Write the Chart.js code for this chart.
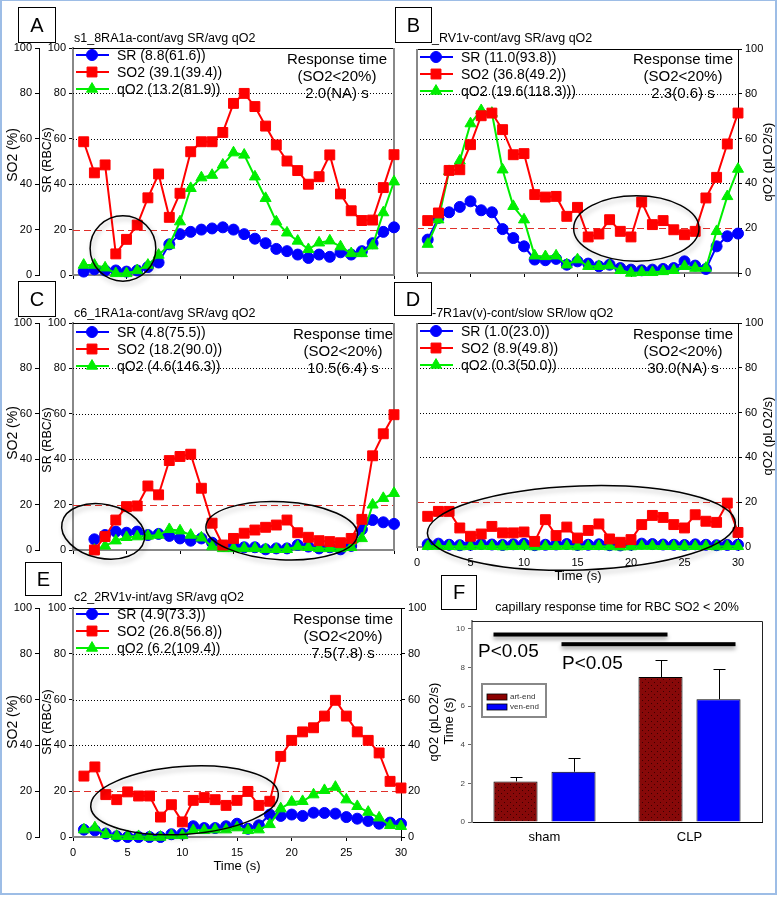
<!DOCTYPE html>
<html>
<head>
<meta charset="utf-8">
<script src="https://cdn.jsdelivr.net/npm/chart.js"></script>
<style>
  body { margin: 0; background: #fff; font-family: "Liberation Sans", Arial, sans-serif; }
  #page { position: relative; width: 778px; height: 898px; overflow: hidden; }
  #page canvas { position: absolute; }
  .win { position: absolute; left: 0; top: 0; width: 777px; height: 895px; box-sizing: border-box;
         border: 2px solid #9dbde6; border-top-width: 1px; }
  .txt { position: absolute; white-space: nowrap; color: #000; }
  .sub { font-size: 12.5px; line-height: 14px; }
  .box { position: absolute; border: 1px solid #000; background: #fff; font-size: 20px;
         text-align: center; box-sizing: border-box; z-index: 5; }
  .rot { position: absolute; white-space: nowrap; transform: translate(-50%, -50%) rotate(-90deg); }
  .resp { position: absolute; transform: translateX(-50%); text-align: center; font-size: 15px;
          line-height: 17px; white-space: nowrap; }
  .ctr { position: absolute; transform: translate(-50%, -50%); white-space: nowrap; }
</style>
</head>
<body>
<div id="page">
  <canvas id="pA" width="402" height="290" style="left:0;top:0"></canvas>
  <canvas id="pB" width="388" height="290" style="left:390px;top:0"></canvas>
  <canvas id="pC" width="402" height="280" style="left:0;top:290px"></canvas>
  <canvas id="pD" width="388" height="300" style="left:390px;top:290px"></canvas>
  <canvas id="pE" width="445" height="320" style="left:0;top:570px"></canvas>
  <canvas id="pF" width="368" height="320" style="left:410px;top:570px"></canvas>

  <div class="box" style="left:18px;top:7px;width:38px;height:36px;line-height:34px">A</div>
  <div class="box" style="left:395px;top:7px;width:37px;height:36px;line-height:34px">B</div>
  <div class="box" style="left:18px;top:281px;width:38px;height:36px;line-height:34px">C</div>
  <div class="box" style="left:394px;top:282px;width:38px;height:34px;line-height:32px">D</div>
  <div class="box" style="left:25px;top:562px;width:37px;height:34px;line-height:32px">E</div>
  <div class="box" style="left:441px;top:575px;width:36px;height:35px;line-height:33px">F</div>

  <div class="txt sub" style="left:74px;top:31px">s1_8RA1a-cont/avg SR/avg qO2</div>
  <div class="txt sub" style="left:432px;top:31px">_RV1v-cont/avg SR/avg qO2</div>
  <div class="txt sub" style="left:74px;top:306px">c6_1RA1a-cont/avg SR/avg qO2</div>
  <div class="txt sub" style="left:432px;top:306px">-7R1av(v)-cont/slow SR/low qO2</div>
  <div class="txt sub" style="left:74px;top:590px">c2_2RV1v-int/avg SR/avg qO2</div>

  <div class="resp" style="left:337px;top:50px">Response time<br>(SO2&lt;20%)<br>2.0(NA) s</div>
  <div class="resp" style="left:683px;top:50px">Response time<br>(SO2&lt;20%)<br>2.3(0.6) s</div>
  <div class="resp" style="left:343px;top:325px">Response time<br>(SO2&lt;20%)<br>10.5(6.4) s</div>
  <div class="resp" style="left:683px;top:325px">Response time<br>(SO2&lt;20%)<br>30.0(NA) s</div>
  <div class="resp" style="left:343px;top:610px">Response time<br>(SO2&lt;20%)<br>7.5(7.8) s</div>

  <div class="rot" style="left:12px;top:155px;font-size:14px">SO2 (%)</div>
  <div class="rot" style="left:47px;top:160px;font-size:12.5px">SR (RBC/s)</div>
  <div class="rot" style="left:12px;top:433px;font-size:14px">SO2 (%)</div>
  <div class="rot" style="left:47px;top:440px;font-size:12.5px">SR (RBC/s)</div>
  <div class="rot" style="left:12px;top:722px;font-size:14px">SO2 (%)</div>
  <div class="rot" style="left:47px;top:722px;font-size:12.5px">SR (RBC/s)</div>
  <div class="rot" style="left:767px;top:162px;font-size:13px">qO2 (pLO2/s)</div>
  <div class="rot" style="left:767px;top:436px;font-size:13px">qO2 (pLO2/s)</div>
  <div class="rot" style="left:433px;top:722px;font-size:13px">qO2 (pLO2/s)</div>
  <div class="rot" style="left:448px;top:721px;font-size:13px">Time (s)</div>

  <div class="ctr" style="left:578px;top:575px;font-size:13px">Time (s)</div>
  <div class="ctr" style="left:237px;top:865px;font-size:13px">Time (s)</div>

  <div class="ctr" style="left:617px;top:607px;font-size:12.5px">capillary response time for RBC SO2 &lt; 20%</div>
  <div class="txt" style="left:478px;top:640px;font-size:19px">P&lt;0.05</div>
  <div class="txt" style="left:562px;top:652px;font-size:19px">P&lt;0.05</div>

  <div class="win"></div>
</div>

<script>
  "use strict";

  // time axis (s) and tick labels
  const times = [1, 2, 3, 4, 5, 6, 7, 8, 9, 10, 11, 12, 13, 14, 15, 16, 17, 18, 19, 20, 21, 22, 23, 24, 25, 26, 27, 28, 29, 30];
  const xTicks = [0, 5, 10, 15, 20, 25, 30];
  const yTicks = [0, 20, 40, 60, 80, 100];

  // A
  const aLabels = ["SR (8.8(61.6))", "SO2 (39.1(39.4))", "qO2 (13.2(81.9))"];
  const aSR = [1.5, 2.5, 2, 2, 1.5, 2, 3.5, 5.5, 13.5, 18, 19, 20, 20.5, 21, 20, 18, 16, 14, 11.5, 10.5, 9, 7.5, 9, 8, 10, 9, 10.5, 14, 19, 21];
  const aSO2 = [58.7, 45, 48.5, 9.3, 15.7, 22, 34, 44.5, 25.4, 36, 54.3, 58.7, 58.7, 62.8, 75.6, 80, 74.2, 65.6, 57.3, 50.2, 46, 40, 43.3, 52.9, 35.7, 28.3, 24, 24.2, 38.5, 53];
  const aQO2 = [4.4, 4.4, 3.2, 0.7, 0.7, 2, 4.4, 8.8, 13.2, 23.5, 38.2, 42.9, 44, 48.5, 53.9, 52.9, 43.3, 33.8, 23.5, 18.6, 15, 11.3, 14.2, 15.1, 12.5, 9.5, 9.5, 12.9, 27.5, 41.1];

  // B
  const bLabels = ["SR (11.0(93.8))", "SO2 (36.8(49.2))", "qO2 (19.6(118.3)))"];
  const bSR = [14.9, 24.6, 27.1, 29.5, 32, 28, 27.1, 19.6, 15.6, 11.9, 6, 5.7, 6.3, 3.7, 5.2, 4.2, 3, 3.7, 2.2, 1.5, 1.2, 1.5, 1.8, 2.2, 5.2, 3.3, 1.8, 11.9, 16.4, 17.6];
  const bSO2 = [23.4, 26.8, 45.8, 46.1, 57.3, 70.2, 71.4, 64, 52.8, 53.3, 35, 33.9, 34.2, 25.3, 29.3, 16.1, 17.4, 23.8, 18.6, 16.1, 31.7, 21.6, 23.4, 19.3, 17.1, 18.6, 33.5, 42.7, 57.6, 71.4];
  const bQO2 = [12.9, 23.8, 45.4, 50.1, 66.7, 72.6, 71.4, 46.1, 29.8, 23.8, 7.7, 7.4, 7.7, 3.7, 6, 3, 3, 3.3, 1.2, 0, 0.3, 0.3, 0.7, 1.2, 3, 2.2, 2.2, 18.6, 34.2, 46.4];

  // C
  const cLabels = ["SR (4.8(75.5))", "SO2 (18.2(90.0))", "qO2 (4.6(146.3))"];
  const cSR = [null, 4.7, 6.6, 8.1, 7.6, 8.1, 6.6, 7.1, 6.2, 5.1, 4.1, 5.1, 3.2, 1.8, 1.8, 1.2, 1.2, 0.3, 0.7, 0.7, 2.2, 1.5, 0.7, 1.2, 0.3, 1.8, 9.1, 13.2, 12.2, 11.5];
  const cSO2 = [null, 0, 5.9, 13.2, 19.1, 19.4, 28.2, 24.3, 39.4, 41.2, 42.2, 27.2, 11.8, 2.2, 5.1, 7.4, 8.8, 10, 11, 13.2, 7.6, 5.6, 4.1, 3.7, 3.2, 5.1, 13.5, 41.5, 51.2, 59.6];
  const cQO2 = [null, 0, 1.8, 4.1, 5.6, 5.9, 6.2, 6.6, 9.1, 8.5, 6.6, 5.4, 1.5, 0.7, 0.7, 0.7, 0.7, 0.3, 0.3, 0.3, 1.5, 1.2, 0.7, 0.7, 0.7, 1.2, 5.1, 19.9, 22.8, 25];

  // D
  const dLabels = ["SR (1.0(23.0))", "SO2 (8.9(49.8))", "qO2 (0.3(50.0))"];
  const dSR = [1.2, 1.5, 1.0, 0.8, 1.0, 1.3, 1.1, 0.9, 1.2, 1.4, 0.8, 1.0, 1.1, 1.3, 0.9, 1.0, 1.2, 0.8, 0.7, 1.0, 1.5, 1.3, 1.1, 1.0, 0.9, 1.2, 1.0, 0.8, 0.9, 1.0];
  const dSO2 = [13.7, 15.9, 15.9, 8.5, 4.8, 5.8, 9.2, 6.3, 6.3, 6.7, 2.5, 12.2, 5.1, 8.9, 4, 7.4, 10.3, 3.6, 2.1, 3.3, 10, 14.1, 13.2, 10, 8.5, 14.4, 11.5, 11, 19.6, 6.5];
  const dQO2 = [0.3, 0.4, 0.3, 0.2, 0.3, 0.4, 0.3, 0.2, 0.3, 0.4, 0.2, 0.3, 0.3, 0.4, 0.2, 0.3, 0.3, 0.2, 0.1, 0.2, 0.4, 0.4, 0.3, 0.3, 0.2, 0.3, 0.3, 0.2, 0.3, 0.3];

  // E
  const eLabels = ["SR (4.9(73.3))", "SO2 (26.8(56.8))", "qO2 (6.2(109.4))"];
  const eSR = [3.2, 2.9, 1.5, 0.3, 0, 0, 0, 0, 1.2, 1.5, 4.7, 3.9, 3.9, 4.7, 5.8, 3.6, 5.1, 9.8, 9.2, 9.8, 9.2, 10.6, 10.5, 10.2, 8.7, 8, 7, 5.8, 6.3, 5.8];
  const eSO2 = [26.6, 30.6, 18.5, 16.3, 19.7, 17.9, 17.9, 8.7, 14.1, 6.6, 16, 17.2, 16.3, 13.8, 16, 19.9, 13.8, 15.6, 35.2, 42.2, 45.9, 47.7, 52.8, 59.7, 52.8, 45.9, 42.2, 36.7, 24.3, 21.4];
  const eQO2 = [3.2, 4.1, 1.2, 0.4, 0.3, 0.3, 0, 0, 0.7, 0.7, 2.9, 2.9, 3.2, 3.2, 4.1, 2.9, 3.2, 5.5, 12.4, 15.3, 15.6, 18.5, 20.4, 21.8, 16.3, 13.4, 10.9, 8.4, 5.1, 4.7];

  // F
  const groups = ["sham", "CLP"];
  const fTicks = [0, 2, 4, 6, 8, 10];
  const artEnd = [2.1, 7.5];
  const artSD = [0.25, 0.9];
  const venEnd = [2.6, 6.35];
  const venSD = [0.7, 1.55];

  Chart.defaults.font.family = '"Liberation Sans", Arial, sans-serif';
  Chart.defaults.color = "#000";

  function hline(ctx, a, y) {
    ctx.beginPath(); ctx.moveTo(a.left, y); ctx.lineTo(a.right, y); ctx.stroke();
  }
  function vline(ctx, a, x) {
    ctx.beginPath(); ctx.moveTo(x, a.top); ctx.lineTo(x, a.bottom); ctx.stroke();
  }

  function drawMarker(ctx, style, x, y, r) {
    ctx.beginPath();
    if (style === "circle") {
      ctx.arc(x, y, r, 0, Math.PI * 2);
    } else if (style === "rect") {
      const s = r * Math.SQRT1_2;
      ctx.rect(x - s, y - s, 2 * s, 2 * s);
    } else {
      let ang = 0;
      ctx.moveTo(x + Math.sin(ang) * r, y - Math.cos(ang) * r);
      ang += Math.PI * 2 / 3;
      ctx.lineTo(x + Math.sin(ang) * r, y - Math.cos(ang) * r);
      ang += Math.PI * 2 / 3;
      ctx.lineTo(x + Math.sin(ang) * r, y - Math.cos(ang) * r);
      ctx.closePath();
    }
    ctx.fill();
    ctx.stroke();
  }

  // grid, threshold line, frame, ellipses and legend of the time panels
  const panelDecor = {
    id: "panelDecor",
    beforeDatasetsDraw(chart, args, o) {
      const { ctx, chartArea: a } = chart;
      const y = chart.scales.y;
      ctx.save();
      ctx.lineWidth = 1;
      ctx.strokeStyle = "#000";
      ctx.setLineDash([1, 2]);
      yTicks.forEach((v) => {
        if (v > o.threshold && v < 100) hline(ctx, a, Math.round(y.getPixelForValue(v)) + 0.5);
      });
      ctx.strokeStyle = "#e0302a";
      ctx.setLineDash([7, 4]);
      hline(ctx, a, Math.round(y.getPixelForValue(o.threshold)) + 0.5);
      ctx.setLineDash([]);
      ctx.strokeStyle = "#000";
      hline(ctx, a, Math.round(a.top) + 0.5);
      ctx.strokeStyle = "#888";
      ctx.lineWidth = 2;
      if (o.frameLeft) vline(ctx, a, a.left);
      if (o.frameRight) vline(ctx, a, a.right);
      ctx.restore();
    },
    afterDatasetsDraw(chart, args, o) {
      const { ctx, chartArea: a } = chart;
      const x = chart.scales.x, y = chart.scales.y;
      ctx.save();
      ctx.strokeStyle = "#000";
      ctx.lineWidth = 1.5;
      ctx.shadowColor = "rgba(0,0,0,0.3)";
      ctx.shadowBlur = 5;
      ctx.shadowOffsetX = 2;
      ctx.shadowOffsetY = 3;
      o.ellipses.forEach((e) => {
        const cx = x.getPixelForValue(e.t), cy = y.getPixelForValue(e.v);
        const rx = x.getPixelForValue(e.t + e.rt) - cx;
        const ry = cy - y.getPixelForValue(e.v + e.rv);
        ctx.beginPath();
        ctx.ellipse(cx, cy, rx, ry, (e.rot || 0) * Math.PI / 180, 0, Math.PI * 2);
        ctx.stroke();
      });
      ctx.shadowColor = "transparent";

      // legend: line + marker + label
      const lx = a.left + 3;
      chart.data.datasets.forEach((d, i) => {
        const ly = a.top + o.legendY + i * 17;
        ctx.strokeStyle = d.borderColor;
        ctx.lineWidth = 2;
        ctx.beginPath(); ctx.moveTo(lx, ly); ctx.lineTo(lx + 33, ly); ctx.stroke();
        ctx.fillStyle = d.pointBackgroundColor;
        ctx.lineWidth = 1;
        drawMarker(ctx, d.pointStyle, lx + 16, ly, d.pointRadius);
        ctx.fillStyle = "#000";
        ctx.font = '14px "Liberation Sans", Arial, sans-serif';
        ctx.textBaseline = "middle";
        ctx.fillText(d.label, lx + 41, ly + 1);
      });
      ctx.restore();
    },
  };

  function series(label, data, color, style, radius, order) {
    return {
      label, data, order,
      borderColor: color,
      backgroundColor: color,
      pointBackgroundColor: color,
      pointBorderColor: color,
      pointStyle: style,
      pointRadius: radius,
      pointBorderWidth: 1,
      borderWidth: 2,
      tension: 0,
      clip: false,
      yAxisID: "y",
    };
  }

  function yAxis(display, position, weight, width, borderColor, borderWidth) {
    return {
      type: "linear", position, weight, display, min: 0, max: 100,
      afterBuildTicks: (s) => { s.ticks = yTicks.map((v) => ({ value: v })); },
      ticks: { font: { size: 11 }, color: "#000", padding: 3 },
      grid: { drawOnChartArea: false, drawTicks: true, tickLength: 4, color: "#000" },
      border: { display: true, color: borderColor, width: borderWidth },
      afterFit: (s) => { s.width = display ? width : 0; },
    };
  }

  function linePanel(id, p) {
    return new Chart(document.getElementById(id), {
      type: "line",
      data: {
        labels: times,
        datasets: [
          series(p.labels[0], p.sr, "#0000ff", "circle", 5.5, 2),
          series(p.labels[1], p.so2, "#ff0000", "rect", 7, 0),
          series(p.labels[2], p.qo2, "#00ee00", "triangle", 6.4, 1),
        ],
      },
      options: {
        responsive: false,
        animation: false,
        layout: { padding: { top: p.top, left: p.left ? 0 : p.padLeft, right: p.right ? 0 : p.padRight, bottom: 0 } },
        plugins: {
          legend: { display: false },
          tooltip: { enabled: false },
          panelDecor: {
            threshold: 20,
            frameLeft: !p.left,
            frameRight: !p.right,
            legendY: p.legendY,
            ellipses: p.ellipses,
          },
        },
        scales: {
          x: {
            type: "linear", min: 0, max: 30,
            afterBuildTicks: (s) => { s.ticks = xTicks.map((v) => ({ value: v })); },
            ticks: { display: p.xLabels, font: { size: 11 }, color: "#000", padding: 5 },
            grid: { drawOnChartArea: false, drawTicks: true, tickLength: 4, color: "#000" },
            border: { color: "#888", width: 2 },
            afterFit: (s) => { s.height = p.xh; },
          },
          y: yAxis(p.left, "left", 0, 34, "#888", 2),
          ySO2: yAxis(p.left, "left", 1, 39, "#000", 1),
          yR: yAxis(p.right, "right", 0, p.rw || 0, "#000", 1),
        },
      },
      plugins: [panelDecor],
    });
  }

  linePanel("pA", {
    labels: aLabels, sr: aSR, so2: aSO2, qo2: aQO2,
    left: true, right: false, xLabels: false, top: 48, padRight: 3, xh: 15, legendY: 7,
    ellipses: [{ t: 4.67, v: 11.7, rt: 3.07, rv: 14.4 }],
  });
  linePanel("pB", {
    labels: bLabels, sr: bSR, so2: bSO2, qo2: bQO2,
    left: false, right: true, xLabels: false, top: 49, padLeft: 27, rw: 40, xh: 17, legendY: 8,
    ellipses: [{ t: 20.5, v: 19.9, rt: 5.86, rv: 14.6 }],
  });
  linePanel("pC", {
    labels: cLabels, sr: cSR, so2: cSO2, qo2: cQO2,
    left: true, right: false, xLabels: false, top: 33, padRight: 2, xh: 20, legendY: 9,
    ellipses: [
      { t: 2.82, v: 8.2, rt: 3.93, rv: 11.9, rot: 12 },
      { t: 19.5, v: 8.5, rt: 7.09, rv: 12.8, rot: 3 },
    ],
  });
  linePanel("pD", {
    labels: dLabels, sr: dSR, so2: dSO2, qo2: dQO2,
    left: false, right: true, xLabels: true, top: 33, padLeft: 27, rw: 40, xh: 43, legendY: 8,
    ellipses: [{ t: 15.36, v: 8.5, rt: 14.4, rv: 18.75, rot: -2 }],
  });
  linePanel("pE", {
    labels: eLabels, sr: eSR, so2: eSO2, qo2: eQO2,
    left: true, right: true, xLabels: true, top: 38, rw: 44, xh: 53, legendY: 6,
    ellipses: [{ t: 10.2, v: 16, rt: 8.6, rv: 14.8, rot: -4 }],
  });

  // F: bar chart with error bars and significance lines
  function dotPattern() {
    const c = document.createElement("canvas");
    c.width = 6; c.height = 6;
    const g = c.getContext("2d");
    g.fillStyle = "#870909";
    g.fillRect(0, 0, 6, 6);
    g.fillStyle = "#3b0000";
    g.fillRect(1, 1, 1, 1);
    g.fillRect(4, 4, 1, 1);
    return g.createPattern(c, "repeat");
  }

  const fDecor = {
    id: "fDecor",
    beforeDatasetsDraw(chart) {
      const { ctx, chartArea: a } = chart;
      ctx.save();
      ctx.strokeStyle = "#222";
      ctx.lineWidth = 1;
      ctx.beginPath();
      ctx.moveTo(a.left, Math.round(a.top) + 0.5);
      ctx.lineTo(Math.round(a.right) + 0.5, Math.round(a.top) + 0.5);
      ctx.lineTo(Math.round(a.right) + 0.5, a.bottom);
      ctx.stroke();
      ctx.restore();
    },
    afterDatasetsDraw(chart, args, o) {
      const { ctx, chartArea: a } = chart;
      const y = chart.scales.y;
      ctx.save();
      ctx.strokeStyle = "#000";
      ctx.lineWidth = 1;
      chart.data.datasets.forEach((d, i) => {
        chart.getDatasetMeta(i).data.forEach((bar, j) => {
          const top = Math.round(y.getPixelForValue(d.data[j] + d.sd[j])) + 0.5;
          const bx = Math.round(bar.x) + 0.5;
          ctx.beginPath();
          ctx.moveTo(bx, bar.y); ctx.lineTo(bx, top);
          ctx.moveTo(bx - 6, top); ctx.lineTo(bx + 6, top);
          ctx.stroke();
        });
      });

      ctx.shadowColor = "rgba(0,0,0,0.35)";
      ctx.shadowBlur = 4;
      ctx.shadowOffsetY = 3;
      ctx.fillStyle = "#000";
      o.sig.forEach((s) => {
        const bars = chart.getDatasetMeta(s.ds).data;
        const x1 = bars[0].x + s.dx[0], x2 = bars[1].x + s.dx[1];
        const py = y.getPixelForValue(s.v);
        ctx.fillRect(x1, py - 2, x2 - x1, 4);
      });
      ctx.shadowColor = "transparent";

      // legend box
      const bx = a.left + 10, by = a.top + 63;
      ctx.fillStyle = "#fff";
      ctx.fillRect(bx, by, 64, 33);
      ctx.strokeStyle = "#888";
      ctx.lineWidth = 2;
      ctx.strokeRect(bx, by, 64, 33);
      ctx.font = '8px "Liberation Sans", Arial, sans-serif';
      ctx.textBaseline = "middle";
      chart.data.datasets.forEach((d, i) => {
        const ry = by + 13 + i * 10;
        ctx.fillStyle = d.legendColor;
        ctx.fillRect(bx + 5, ry - 3, 20, 6);
        ctx.strokeStyle = "#000";
        ctx.lineWidth = 0.8;
        ctx.strokeRect(bx + 5, ry - 3, 20, 6);
        ctx.fillStyle = "#333";
        ctx.fillText(d.label, bx + 28, ry);
      });
      ctx.restore();
    },
  };

  new Chart(document.getElementById("pF"), {
    type: "bar",
    data: {
      labels: groups,
      datasets: [
        {
          label: "art-end", data: artEnd, sd: artSD, legendColor: "#8b0000",
          backgroundColor: dotPattern(), borderColor: "#000", borderWidth: 1,
          categoryPercentage: 0.8, barPercentage: 0.76,
        },
        {
          label: "ven-end", data: venEnd, sd: venSD, legendColor: "#0000ff",
          backgroundColor: "#0000ff", borderColor: "#000", borderWidth: 1,
          categoryPercentage: 0.8, barPercentage: 0.76,
        },
      ],
    },
    options: {
      responsive: false,
      animation: false,
      layout: { padding: { top: 51, right: 16, left: 0, bottom: 0 } },
      plugins: {
        legend: { display: false },
        tooltip: { enabled: false },
        fDecor: {
          sig: [
            { ds: 0, dx: [-22, 7], v: 9.7 },
            { ds: 1, dx: [-12, 17], v: 9.2 },
          ],
        },
      },
      scales: {
        x: {
          ticks: { font: { size: 13 }, color: "#000", padding: 8 },
          grid: { display: false, drawTicks: false },
          border: { color: "#000", width: 1 },
          afterFit: (s) => { s.height = 68; },
        },
        y: {
          min: 0, max: 10.4,
          afterBuildTicks: (s) => { s.ticks = fTicks.map((v) => ({ value: v })); },
          ticks: { font: { size: 8 }, color: "#444", padding: 3 },
          grid: { drawOnChartArea: false, drawTicks: true, tickLength: 4, color: "#666" },
          border: { color: "#888", width: 2 },
          afterFit: (s) => { s.width = 62; },
        },
      },
    },
    plugins: [fDecor],
  });
</script>
</body>
</html>
